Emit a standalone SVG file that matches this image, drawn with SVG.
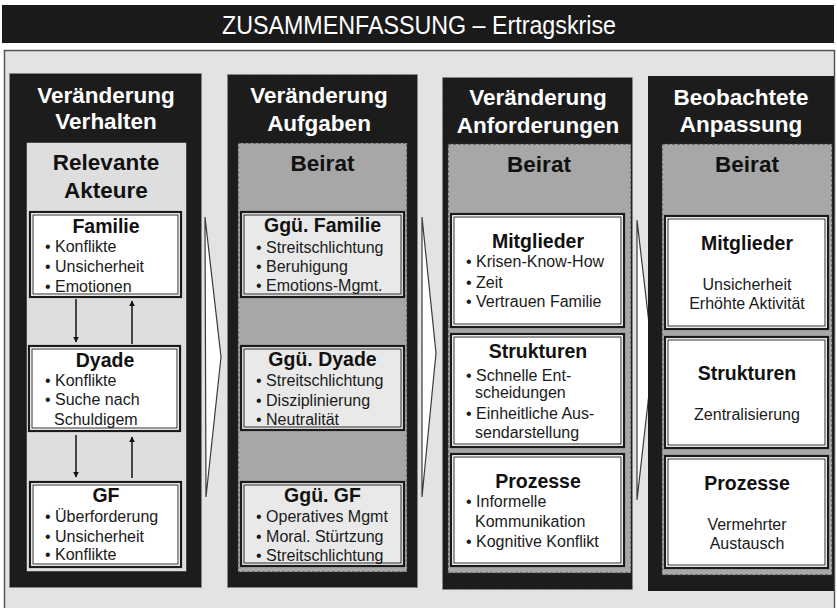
<svg xmlns="http://www.w3.org/2000/svg" width="837" height="608" viewBox="0 0 837 608">
  <style>
    .hdr { font-family: "Liberation Sans", Arial, sans-serif; font-weight: bold; font-size: 22.5px; fill: #ffffff; text-anchor: middle; }
    .grp { font-family: "Liberation Sans", Arial, sans-serif; font-weight: bold; font-size: 22.5px; fill: #111111; text-anchor: middle; }
    .ttl { font-family: "Liberation Sans", Arial, sans-serif; font-weight: bold; font-size: 19.5px; fill: #111111; text-anchor: middle; }
    .itm { font-family: "Liberation Sans", Arial, sans-serif; font-size: 16px; fill: #1a1a1a; }
    .ctr { font-family: "Liberation Sans", Arial, sans-serif; font-size: 16px; fill: #1a1a1a; text-anchor: middle; }
    .col { fill: #1c1c1c; stroke: #8a8a8a; stroke-width: 1; stroke-dasharray: 3 2; }
    .beirat { fill: #a7a7a7; stroke: #333333; stroke-width: 1; stroke-dasharray: 3 2; }
    .akteure { fill: #dedede; stroke: #1a1a1a; stroke-width: 1.5; }
    .box { fill: #ffffff; stroke: #1a1a1a; stroke-width: 2.2; }
    .boxg { fill: #e9e9e9; stroke: #1a1a1a; stroke-width: 2.2; }
    .inner { fill: none; stroke: #1a1a1a; stroke-width: 0.9; }
    .chev { fill: #ffffff; stroke: #3a3a3a; stroke-width: 1.2; }
    .arr { stroke: #111111; stroke-width: 1.5; fill: none; marker-end: url(#head); }
  </style>
  <defs>
    <marker id="head" viewBox="0 0 10 10" refX="9" refY="5" markerWidth="6" markerHeight="6" markerUnits="userSpaceOnUse" orient="auto">
      <path d="M0,0 L10,5 L0,10 z" fill="#111111"/>
    </marker>
  </defs>

  <!-- page -->
  <rect x="0" y="0" width="837" height="608" fill="#ffffff"/>

  <!-- title bar -->
  <g id="title">
    <rect x="2" y="5" width="832" height="38" fill="#1a1a1a"/>
    <text x="222" y="34" font-family="'Liberation Sans', Arial, sans-serif" font-size="26" fill="#ffffff" textLength="394" lengthAdjust="spacingAndGlyphs">ZUSAMMENFASSUNG – Ertragskrise</text>
  </g>

  <!-- background panel -->
  <rect x="4.5" y="50.5" width="830" height="562" fill="#e3e3e3" stroke="#555555" stroke-width="1.5"/>

  <!-- column 1: Veränderung Verhalten -->
  <g id="col-verhalten">
    <rect class="col" x="9.5" y="73.5" width="192" height="514"/>
    <text class="hdr" x="106" y="103">Veränderung</text>
    <text class="hdr" x="106" y="129">Verhalten</text>
    <rect class="akteure" x="26" y="142" width="161" height="430"/>
    <text class="grp" x="106" y="170">Relevante</text>
    <text class="grp" x="106" y="198">Akteure</text>
  </g>
  <g id="familie">
    <rect class="box" x="30" y="212" width="151" height="85"/>
    <rect class="inner" x="33" y="215" width="145" height="79"/>
    <text class="ttl" x="106" y="233">Familie</text>
    <text class="itm" x="45" y="252">• Konflikte</text>
    <text class="itm" x="45" y="272">• Unsicherheit</text>
    <text class="itm" x="45" y="292">• Emotionen</text>
  </g>
  <g id="dyade">
    <rect class="box" x="29" y="346" width="151" height="85"/>
    <rect class="inner" x="32" y="349" width="145" height="79"/>
    <text class="ttl" x="105" y="367">Dyade</text>
    <text class="itm" x="45" y="386">• Konflikte</text>
    <text class="itm" x="45" y="405">• Suche nach</text>
    <text class="itm" x="54" y="425">Schuldigem</text>
  </g>
  <g id="gf">
    <rect class="box" x="30" y="482" width="151" height="85"/>
    <rect class="inner" x="33" y="485" width="145" height="79"/>
    <text class="ttl" x="106" y="502">GF</text>
    <text class="itm" x="45" y="522">• Überforderung</text>
    <text class="itm" x="45" y="542">• Unsicherheit</text>
    <text class="itm" x="45" y="560">• Konflikte</text>
  </g>

  <!-- column 2: Veränderung Aufgaben -->
  <g id="col-aufgaben">
    <rect class="col" x="227.5" y="74.5" width="190" height="513"/>
    <text class="hdr" x="319" y="103">Veränderung</text>
    <text class="hdr" x="319" y="131">Aufgaben</text>
    <rect class="beirat" x="238" y="143" width="169" height="429"/>
    <text class="grp" x="322.5" y="171">Beirat</text>
  </g>
  <g id="ggue-familie">
    <rect class="boxg" x="241" y="212" width="163" height="85"/>
    <rect class="inner" x="244" y="215" width="157" height="79"/>
    <text class="ttl" x="322.5" y="232">Ggü. Familie</text>
    <text class="itm" x="256" y="253">• Streitschlichtung</text>
    <text class="itm" x="256" y="272">• Beruhigung</text>
    <text class="itm" x="256" y="291">• Emotions-Mgmt.</text>
  </g>
  <g id="ggue-dyade">
    <rect class="boxg" x="241" y="346" width="163" height="84"/>
    <rect class="inner" x="244" y="349" width="157" height="78"/>
    <text class="ttl" x="322.5" y="366">Ggü. Dyade</text>
    <text class="itm" x="256" y="386">• Streitschlichtung</text>
    <text class="itm" x="256" y="406">• Disziplinierung</text>
    <text class="itm" x="256" y="425">• Neutralität</text>
  </g>
  <g id="ggue-gf">
    <rect class="boxg" x="241" y="482" width="163" height="84"/>
    <rect class="inner" x="244" y="485" width="157" height="78"/>
    <text class="ttl" x="322.5" y="502">Ggü. GF</text>
    <text class="itm" x="256" y="522">• Operatives Mgmt</text>
    <text class="itm" x="256" y="542">• Moral. Stürtzung</text>
    <text class="itm" x="256" y="561">• Streitschlichtung</text>
  </g>

  <!-- column 3: Veränderung Anforderungen -->
  <g id="col-anforderungen">
    <rect class="col" x="442.5" y="77.5" width="190" height="512"/>
    <text class="hdr" x="538" y="105">Veränderung</text>
    <text class="hdr" x="538" y="133">Anforderungen</text>
    <rect class="beirat" x="448" y="144" width="183" height="429"/>
    <text class="grp" x="539" y="172">Beirat</text>
  </g>
  <g id="anf-mitglieder">
    <rect class="box" x="451" y="214" width="173" height="113"/>
    <rect class="inner" x="454" y="217" width="167" height="107"/>
    <text class="ttl" x="538" y="248">Mitglieder</text>
    <text class="itm" x="466" y="267">• Krisen-Know-How</text>
    <text class="itm" x="466" y="288">• Zeit</text>
    <text class="itm" x="466" y="307">• Vertrauen Familie</text>
  </g>
  <g id="anf-strukturen">
    <rect class="box" x="451" y="334" width="173" height="113"/>
    <rect class="inner" x="454" y="337" width="167" height="107"/>
    <text class="ttl" x="538" y="358">Strukturen</text>
    <text class="itm" x="466" y="381">• Schnelle Ent-</text>
    <text class="itm" x="475" y="398">scheidungen</text>
    <text class="itm" x="466" y="419">• Einheitliche Aus-</text>
    <text class="itm" x="475" y="438">sendarstellung</text>
  </g>
  <g id="anf-prozesse">
    <rect class="box" x="451" y="454" width="173" height="112"/>
    <rect class="inner" x="454" y="457" width="167" height="106"/>
    <text class="ttl" x="538" y="488">Prozesse</text>
    <text class="itm" x="466" y="507">• Informelle</text>
    <text class="itm" x="475" y="527">Kommunikation</text>
    <text class="itm" x="466" y="547">• Kognitive Konflikt</text>
  </g>

  <!-- connectors: transition chevrons between columns and feedback arrows between actors -->
  <g id="connectors">
    <polygon class="chev" points="205,217 221,357 206,497"/>
    <polygon class="chev" points="422,217 436,353 422,497"/>
    <polygon class="chev" points="637,220 653,358 637,500"/>
    <line class="arr" x1="76" y1="299" x2="76" y2="342"/>
    <line class="arr" x1="132" y1="344" x2="132" y2="301"/>
    <line class="arr" x1="76" y1="435" x2="76" y2="477"/>
    <line class="arr" x1="132" y1="478" x2="132" y2="437"/>
  </g>

  <!-- column 4: Beobachtete Anpassung (drawn over the tip of the last chevron) -->
  <g id="col-anpassung">
    <rect x="648" y="76" width="186" height="515" fill="#1c1c1c"/>
    <text class="hdr" x="741" y="105">Beobachtete</text>
    <text class="hdr" x="741" y="132">Anpassung</text>
    <rect class="beirat" x="662" y="144" width="170" height="431"/>
    <text class="grp" x="747" y="172">Beirat</text>
  </g>
  <g id="anp-mitglieder">
    <rect class="box" x="665" y="216" width="163" height="113"/>
    <rect class="inner" x="668" y="219" width="157" height="107"/>
    <text class="ttl" x="747" y="250">Mitglieder</text>
    <text class="ctr" x="747" y="290">Unsicherheit</text>
    <text class="ctr" x="747" y="309">Erhöhte Aktivität</text>
  </g>
  <g id="anp-strukturen">
    <rect class="box" x="665" y="337" width="163" height="111"/>
    <rect class="inner" x="668" y="340" width="157" height="105"/>
    <text class="ttl" x="747" y="380">Strukturen</text>
    <text class="ctr" x="747" y="420">Zentralisierung</text>
  </g>
  <g id="anp-prozesse">
    <rect class="box" x="665" y="456" width="163" height="112"/>
    <rect class="inner" x="668" y="459" width="157" height="106"/>
    <text class="ttl" x="747" y="490">Prozesse</text>
    <text class="ctr" x="747" y="530">Vermehrter</text>
    <text class="ctr" x="747" y="549">Austausch</text>
  </g>
</svg>
